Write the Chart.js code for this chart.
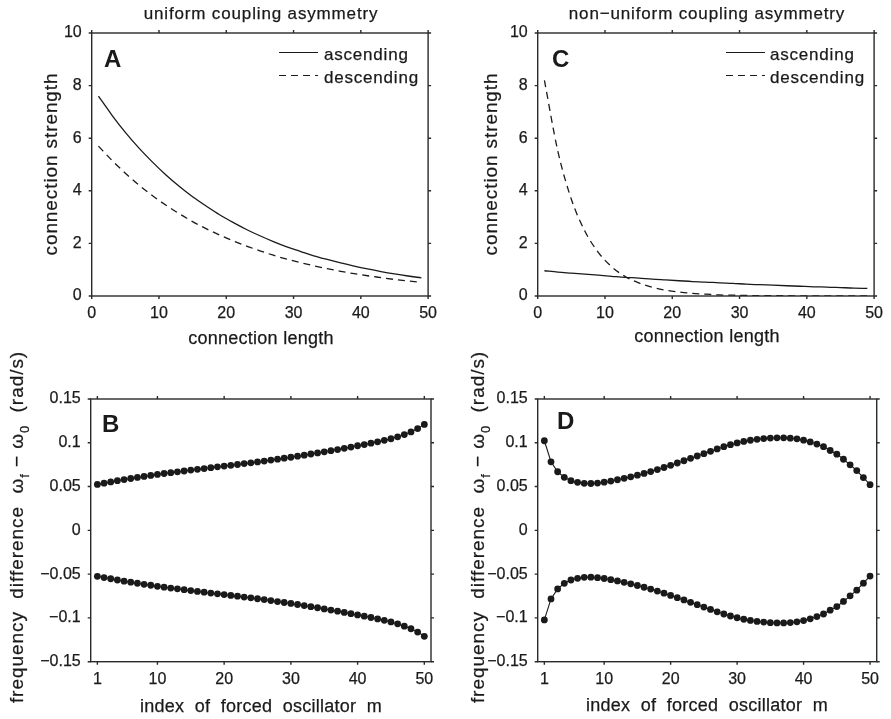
<!DOCTYPE html>
<html lang="en">
<head>
  <meta charset="UTF-8">
  <title>Coupling asymmetry</title>
  <script src="https://cdn.jsdelivr.net/npm/chart.js"></script>
  <style>
    body {
      margin: 0;
      background: #fff;
    }
    #figure {
      position: relative;
      width: 891px;
      height: 719px;
      overflow: hidden;
    }
    #figure canvas {
      position: absolute;
    }
  </style>
</head>
<body>
  <div id="figure">
    <canvas id="chartA" width="445" height="360" style="left:0;top:0"></canvas>
    <canvas id="chartC" width="446" height="360" style="left:445px;top:0"></canvas>
    <canvas id="chartB" width="445" height="399" style="left:0;top:320px"></canvas>
    <canvas id="chartD" width="446" height="399" style="left:445px;top:320px"></canvas>
  </div>

  <script>
    // ---- data ----
    const connLength = [1, 3, 5, 7, 9, 11, 13, 15, 17, 19, 21, 23, 25, 27, 29, 31, 33, 35, 37, 39, 41, 43, 45, 47, 49];
    const ascendingA = [7.60, 6.88, 6.22, 5.63, 5.10, 4.61, 4.17, 3.77, 3.42, 3.09, 2.80, 2.53, 2.29, 2.07, 1.87, 1.70, 1.53, 1.39, 1.26, 1.14, 1.03, 0.93, 0.84, 0.76, 0.69];
    const descendingA = [5.70, 5.16, 4.67, 4.22, 3.82, 3.46, 3.13, 2.83, 2.56, 2.32, 2.10, 1.90, 1.72, 1.55, 1.40, 1.27, 1.15, 1.04, 0.94, 0.85, 0.77, 0.70, 0.63, 0.57, 0.52];
    const ascendingC = [0.96, 0.91, 0.87, 0.83, 0.79, 0.75, 0.71, 0.68, 0.64, 0.61, 0.58, 0.55, 0.53, 0.50, 0.48, 0.45, 0.43, 0.41, 0.39, 0.37, 0.35, 0.34, 0.32, 0.30, 0.29];
    const descendingC = [8.20, 5.50, 3.68, 2.47, 1.66, 1.11, 0.74, 0.50, 0.33, 0.22, 0.15, 0.10, 0.07, 0.04, 0.03, 0.02, 0.01, 0.01, 0.01, 0, 0, 0, 0, 0, 0];

    const oscIndex = [1, 2, 3, 4, 5, 6, 7, 8, 9, 10, 11, 12, 13, 14, 15, 16, 17, 18, 19, 20,
      21, 22, 23, 24, 25, 26, 27, 28, 29, 30, 31, 32, 33, 34, 35, 36, 37, 38, 39, 40,
      41, 42, 43, 44, 45, 46, 47, 48, 49, 50];
    const upperB = [0.0525, 0.0539, 0.0553, 0.0567, 0.0580, 0.0592, 0.0604, 0.0616, 0.0627, 0.0639,
      0.0649, 0.0659, 0.0668, 0.0678, 0.0688, 0.0697, 0.0706, 0.0716, 0.0725, 0.0734,
      0.0743, 0.0752, 0.0762, 0.0771, 0.0781, 0.0791, 0.0802, 0.0813, 0.0824, 0.0835,
      0.0847, 0.0859, 0.0872, 0.0884, 0.0897, 0.0910, 0.0923, 0.0937, 0.0951, 0.0966,
      0.0980, 0.0995, 0.1011, 0.1028, 0.1046, 0.1068, 0.1094, 0.1124, 0.1162, 0.1210];
    const lowerB = [-0.0525, -0.0539, -0.0553, -0.0567, -0.0580, -0.0592, -0.0604, -0.0616, -0.0627, -0.0639,
      -0.0649, -0.0659, -0.0668, -0.0678, -0.0688, -0.0697, -0.0706, -0.0716, -0.0725, -0.0734,
      -0.0743, -0.0752, -0.0762, -0.0771, -0.0781, -0.0791, -0.0802, -0.0813, -0.0824, -0.0835,
      -0.0847, -0.0859, -0.0872, -0.0884, -0.0897, -0.0910, -0.0923, -0.0937, -0.0951, -0.0966,
      -0.0980, -0.0995, -0.1011, -0.1028, -0.1046, -0.1068, -0.1094, -0.1124, -0.1162, -0.1210];
    const upperD = [0.1023, 0.0783, 0.0669, 0.0605, 0.0567, 0.0548, 0.0537, 0.0535, 0.0540, 0.0550,
      0.0563, 0.0578, 0.0594, 0.0611, 0.0630, 0.0650, 0.0671, 0.0694, 0.0718, 0.0743,
      0.0769, 0.0795, 0.0822, 0.0849, 0.0876, 0.0903, 0.0930, 0.0955, 0.0978, 0.0998,
      0.1015, 0.1029, 0.1040, 0.1048, 0.1054, 0.1057, 0.1057, 0.1053, 0.1045, 0.1030,
      0.1010, 0.0985, 0.0955, 0.0912, 0.0870, 0.0812, 0.0748, 0.0683, 0.0603, 0.0522];
    const lowerD = [-0.1023, -0.0783, -0.0669, -0.0605, -0.0567, -0.0548, -0.0537, -0.0535, -0.0540, -0.0550,
      -0.0563, -0.0578, -0.0594, -0.0611, -0.0630, -0.0650, -0.0671, -0.0694, -0.0718, -0.0743,
      -0.0769, -0.0795, -0.0822, -0.0849, -0.0876, -0.0903, -0.0930, -0.0955, -0.0978, -0.0998,
      -0.1015, -0.1029, -0.1040, -0.1048, -0.1054, -0.1057, -0.1057, -0.1053, -0.1045, -0.1030,
      -0.1010, -0.0985, -0.0955, -0.0912, -0.0870, -0.0812, -0.0748, -0.0683, -0.0603, -0.0522];

    // tick labels
    const lengthTicks = [0, 10, 20, 30, 40, 50];
    const strengthTicks = [0, 2, 4, 6, 8, 10];
    const indexTicks = [1, 10, 20, 30, 40, 50];
    const freqTicks = [-0.15, -0.1, -0.05, 0, 0.05, 0.1, 0.15];

    const FONT = '"Liberation Sans", Arial, Helvetica, sans-serif';
    const INK = '#1a1a1a';

    function toPoints(xs, ys) {
      return xs.map((x, i) => ({ x: x, y: ys[i] }));
    }

    function fmtTick(v) {
      return v < 0 ? '\u2212' + String(Math.abs(v)) : String(v);
    }

    // box round the plot area with small outward ticks on all four sides
    const framePlugin = {
      id: 'frame',
      afterDatasetsDraw(chart) {
        const a = chart.chartArea;
        const ctx = chart.ctx;
        const sx = chart.scales.x, sy = chart.scales.y;
        ctx.save();
        ctx.strokeStyle = '#2a2a2a';
        ctx.lineWidth = 1.4;
        ctx.strokeRect(a.left, a.top, a.right - a.left, a.bottom - a.top);
        ctx.beginPath();
        sx.ticks.forEach(t => {
          const px = sx.getPixelForValue(t.value);
          ctx.moveTo(px, a.bottom); ctx.lineTo(px, a.bottom + 3);
          ctx.moveTo(px, a.top); ctx.lineTo(px, a.top - 3);
        });
        sy.ticks.forEach(t => {
          const py = sy.getPixelForValue(t.value);
          ctx.moveTo(a.left, py); ctx.lineTo(a.left - 3, py);
          ctx.moveTo(a.right, py); ctx.lineTo(a.right + 3, py);
        });
        ctx.stroke();
        ctx.restore();
      }
    };

    // draws text made of pieces, some of them subscripts; centred on x unless align is 'left'
    function drawParts(ctx, parts, x0, y, size, spacing, align) {
      ctx.letterSpacing = spacing + 'px';
      ctx.lineWidth = 0.25;
      let total = 0;
      parts.forEach(p => {
        ctx.font = (p.sub ? size * 0.68 : size) + 'px ' + FONT;
        p.w = ctx.measureText(p.t).width;
        total += p.w;
      });
      let x = align === 'left' ? x0 : x0 - total / 2;
      ctx.textAlign = 'left';
      parts.forEach(p => {
        const yy = y + (p.sub ? size * 0.32 : 0);
        ctx.font = (p.sub ? size * 0.68 : size) + 'px ' + FONT;
        ctx.fillText(p.t, x, yy);
        ctx.strokeText(p.t, x, yy);
        x += p.w;
      });
    }

    // titles, axis labels, panel letter and legend
    const decorPlugin = {
      id: 'decor',
      afterDraw(chart, args, o) {
        const ctx = chart.ctx;
        ctx.save();
        ctx.fillStyle = INK;
        ctx.strokeStyle = INK;
        ctx.textBaseline = 'alphabetic';
        if (o.title) {
          drawParts(ctx, [{ t: o.title.text }], o.title.x, o.title.y, 17, 0.85);
        }
        if (o.xLabel) {
          drawParts(ctx, [{ t: o.xLabel.text }], o.xLabel.x, o.xLabel.y, 18, 0.25);
        }
        if (o.yLabel) {
          ctx.save();
          ctx.translate(o.yLabel.x, o.yLabel.y);
          ctx.rotate(-Math.PI / 2);
          drawParts(ctx, o.yLabel.parts, 0, 0, 19, o.yLabel.spacing);
          ctx.restore();
        }
        if (o.letter) {
          ctx.letterSpacing = '0px';
          ctx.font = 'bold 24px ' + FONT;
          ctx.textAlign = 'left';
          ctx.fillText(o.letter.text, o.letter.x, o.letter.y);
        }
        if (o.legend) {
          o.legend.forEach(item => {
            ctx.strokeStyle = INK;
            ctx.lineWidth = 1.2;
            ctx.setLineDash(item.dash);
            ctx.beginPath();
            ctx.moveTo(item.x1, item.y - 7.5);
            ctx.lineTo(item.x2, item.y - 7.5);
            ctx.stroke();
            ctx.setLineDash([]);
            drawParts(ctx, [{ t: item.text }], item.tx, item.y, 17, 0.8, 'left');
          });
        }
        ctx.restore();
      }
    };

    function makeChart(id, cfg) {
      const canvas = document.getElementById(id);
      const w = canvas.width, h = canvas.height, a = cfg.area;
      return new Chart(canvas, {
        type: 'line',
        data: { datasets: cfg.datasets },
        options: {
          responsive: false,
          animation: false,
          events: [],
          layout: { padding: { left: 0, top: a.t, right: w - a.r, bottom: 0 } },
          scales: {
            x: {
              type: 'linear',
              min: cfg.xMin,
              max: cfg.xMax,
              afterBuildTicks: s => { s.ticks = cfg.xTicks.map(v => ({ value: v })); },
              afterFit: s => { s.height = h - a.b; },
              grid: { display: false, drawTicks: false },
              border: { display: false },
              ticks: {
                padding: 8, color: INK, font: { family: FONT, size: 16 }, callback: fmtTick, maxRotation: 0,
                textStrokeColor: INK, textStrokeWidth: 0.25
              }
            },
            y: {
              type: 'linear',
              min: cfg.yMin,
              max: cfg.yMax,
              afterBuildTicks: s => { s.ticks = cfg.yTicks.map(v => ({ value: v })); },
              afterFit: s => { s.width = a.l; },
              grid: { display: false, drawTicks: false },
              border: { display: false },
              ticks: {
                padding: 10, color: INK, font: { family: FONT, size: 16 }, callback: fmtTick,
                textStrokeColor: INK, textStrokeWidth: 0.25
              }
            }
          },
          plugins: {
            legend: { display: false },
            tooltip: { enabled: false },
            decor: cfg.decor
          }
        },
        plugins: [framePlugin, decorPlugin]
      });
    }

    function curve(xs, ys, dash) {
      return {
        data: toPoints(xs, ys),
        borderColor: INK,
        borderWidth: 1.3,
        borderDash: dash,
        pointRadius: 0,
        cubicInterpolationMode: 'monotone',
        fill: false
      };
    }

    function dots(xs, ys) {
      return {
        data: toPoints(xs, ys),
        borderColor: INK,
        borderWidth: 1.1,
        pointRadius: 3.4,
        pointBackgroundColor: INK,
        pointBorderColor: INK,
        pointBorderWidth: 0,
        fill: false
      };
    }

    const freqLabel = [
      { t: 'frequency  difference  \u03c9' }, { t: 'f', sub: true },
      { t: ' \u2212 \u03c9' }, { t: '0', sub: true }, { t: '  (rad/s)' }
    ];

    // Panel A: uniform coupling asymmetry
    makeChart('chartA', {
      area: { l: 91.7, t: 33, r: 431, b: 296 },
      xMin: 0, xMax: 50, xTicks: lengthTicks,
      yMin: 0, yMax: 10, yTicks: strengthTicks,
      datasets: [curve(connLength, ascendingA, []), curve(connLength, descendingA, [7, 5])],
      decor: {
        title: { text: 'uniform coupling asymmetry', x: 261, y: 19 },
        xLabel: { text: 'connection length', x: 261, y: 344 },
        yLabel: { parts: [{ t: 'connection strength' }], x: 57, y: 164, spacing: 0.9 },
        letter: { text: 'A', x: 104, y: 67 },
        legend: [
          { text: 'ascending', dash: [], x1: 279, x2: 318, tx: 324, y: 60 },
          { text: 'descending', dash: [7, 5], x1: 279, x2: 318, tx: 324, y: 83 }
        ]
      }
    });

    // Panel C: non-uniform coupling asymmetry
    makeChart('chartC', {
      area: { l: 92.7, t: 33, r: 432, b: 296 },
      xMin: 0, xMax: 50, xTicks: lengthTicks,
      yMin: 0, yMax: 10, yTicks: strengthTicks,
      datasets: [curve(connLength, ascendingC, []), curve(connLength, descendingC, [7, 5])],
      decor: {
        title: { text: 'non\u2212uniform coupling asymmetry', x: 262, y: 19 },
        xLabel: { text: 'connection length', x: 262, y: 342 },
        yLabel: { parts: [{ t: 'connection strength' }], x: 52, y: 164, spacing: 0.9 },
        letter: { text: 'C', x: 107, y: 67 },
        legend: [
          { text: 'ascending', dash: [], x1: 281, x2: 320, tx: 325, y: 60 },
          { text: 'descending', dash: [7, 5], x1: 281, x2: 320, tx: 325, y: 83 }
        ]
      }
    });

    // Panel B: frequency difference, uniform case
    makeChart('chartB', {
      area: { l: 90.7, t: 79, r: 431, b: 341.7 },
      xMin: 0, xMax: 51, xTicks: indexTicks,
      yMin: -0.15, yMax: 0.15, yTicks: freqTicks,
      datasets: [dots(oscIndex, upperB), dots(oscIndex, lowerB)],
      decor: {
        xLabel: { text: 'index  of  forced  oscillator  m', x: 261, y: 392 },
        yLabel: { parts: freqLabel, x: 23, y: 207, spacing: 0.95 },
        letter: { text: 'B', x: 102, y: 112 }
      }
    });

    // Panel D: frequency difference, non-uniform case
    makeChart('chartD', {
      area: { l: 92.7, t: 79, r: 431.7, b: 341.7 },
      xMin: 0, xMax: 51, xTicks: indexTicks,
      yMin: -0.15, yMax: 0.15, yTicks: freqTicks,
      datasets: [dots(oscIndex, upperD), dots(oscIndex, lowerD)],
      decor: {
        xLabel: { text: 'index  of  forced  oscillator  m', x: 262, y: 391 },
        yLabel: { parts: freqLabel, x: 39, y: 207, spacing: 0.95 },
        letter: { text: 'D', x: 112, y: 109 }
      }
    });
  </script>
</body>
</html>
